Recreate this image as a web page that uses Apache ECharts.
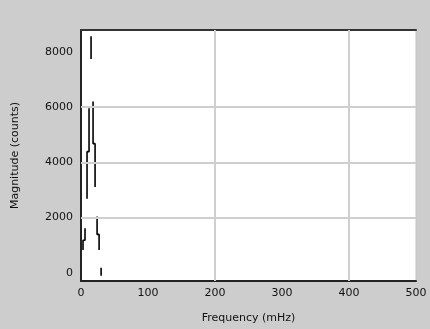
<!DOCTYPE html>
<html>
<head>
<meta charset="utf-8">
<script src="https://cdn.jsdelivr.net/npm/echarts@6/dist/echarts.min.js"></script>
<style>
  html, body { margin: 0; padding: 0; background: #cdcdcd; }
  #chart { width: 430px; height: 329px; }
</style>
</head>
<body>
<div id="chart"></div>
<script>
// spectrum pieces, null = break in the trace
var freq = [3, 3, 6, 6, null, 12, 12, 9, 9, null, 15, 15, null, 18, 18, 21, 21, null, 24, 24, 27, 27, null, 30, 30];
var mag  = [820, 1180, 1180, 1610, null, 5960, 4390, 4390, 2680, null, 8570, 7750, null, 6210, 4680, 4680, 3110, null, 2040, 1390, 1390, 820, null, 180, -110];
var yTicks = [0, 2000, 4000, 6000, 8000];
var yGrid = [2000, 4000, 6000];
var xGrid = [200, 400];

var chart = echarts.init(document.getElementById('chart'));

var trace = freq.map(function (f, i) {
    return f === null ? ['-', '-'] : [f, mag[i]];
});

var font = 'DejaVu Sans';

var option = {
    backgroundColor: '#cdcdcd',
    animation: false,
    grid: {
        left: 81,
        right: 14,
        top: 30,
        bottom: 45,
        show: true,
        backgroundColor: '#ffffff',
        borderColor: '#c4c4c4',
        borderWidth: 1
    },
    xAxis: [
        {
            type: 'value',
            min: 0,
            max: 500,
            interval: 100,
            name: 'Frequency (mHz)',
            nameLocation: 'middle',
            nameGap: 32,
            nameTextStyle: { color: '#111', fontFamily: font, fontSize: 11 },
            axisLine: { show: true, onZero: false, lineStyle: { color: '#222', width: 2 } },
            axisTick: { show: false },
            axisLabel: { color: '#111', fontFamily: font, fontSize: 11, margin: 7 },
            splitLine: { show: false }
        },
        {
            type: 'value',
            position: 'top',
            min: 0,
            max: 500,
            axisLine: { show: true, onZero: false, lineStyle: { color: '#333', width: 2 } },
            axisTick: { show: false },
            axisLabel: { show: false },
            splitLine: { show: false }
        }
    ],
    yAxis: {
        type: 'value',
        min: -300,
        max: 8800,
        name: 'Magnitude (counts)',
        nameLocation: 'middle',
        nameGap: 60,
        nameTextStyle: { color: '#111', fontFamily: font, fontSize: 11 },
        axisLine: { show: true, onZero: false, lineStyle: { color: '#222', width: 2 } },
        axisTick: { show: false },
        axisLabel: {
            color: '#111', fontFamily: font, fontSize: 11, margin: 8,
            customValues: yTicks,
            formatter: function (v) { return String(v); }
        },
        splitLine: { show: false }
    },
    series: [
        {
            type: 'line',
            data: [],
            z: 1,
            silent: true,
            markLine: {
                silent: true,
                symbol: 'none',
                label: { show: false },
                lineStyle: { color: '#cfcfcf', width: 2, type: 'solid' },
                data: yGrid.map(function (v) { return { yAxis: v }; })
                    .concat(xGrid.map(function (v) { return { xAxis: v }; }))
            }
        },
        {
            type: 'line',
            data: trace,
            z: 3,
            showSymbol: false,
            connectNulls: false,
            lineStyle: { color: '#000', width: 1.6 }
        }
    ]
};

chart.setOption(option);
</script>
</body>
</html>
